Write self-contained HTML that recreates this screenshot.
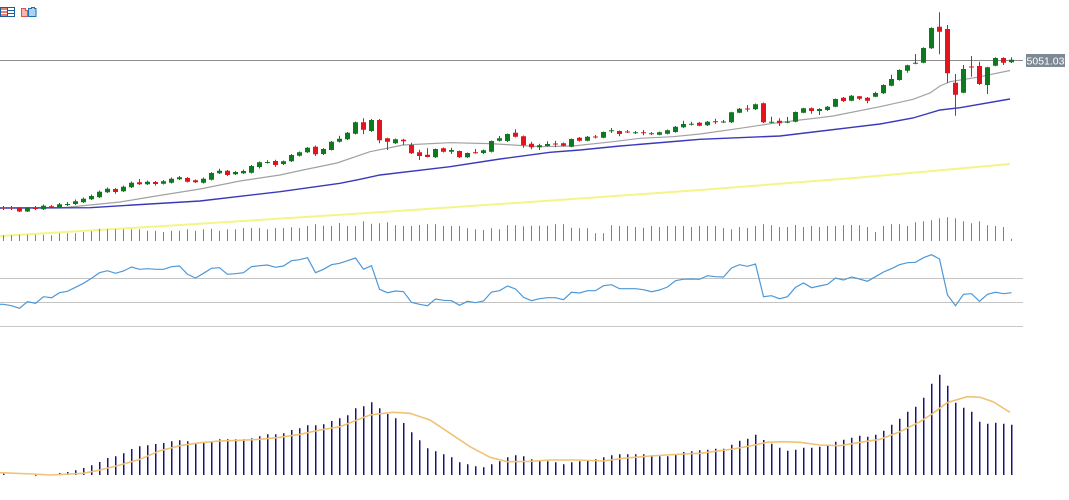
<!DOCTYPE html>
<html><head><meta charset="utf-8">
<style>
html,body{margin:0;padding:0;background:#fff;width:1069px;height:500px;overflow:hidden}
svg{display:block}
</style></head><body>
<svg id="c" width="1069" height="500" viewBox="0 0 1069 500" xmlns="http://www.w3.org/2000/svg">
<rect width="1069" height="500" fill="#fff"/>
<!-- toolbar icons -->
<g>
  <rect x="0.5" y="7.5" width="14" height="9" fill="#fff" stroke="#1f5d9a"/>
  <rect x="1" y="8" width="6" height="8" fill="#e8806e"/>
  <line x1="1" y1="10.5" x2="14" y2="10.5" stroke="#fff"/>
  <line x1="1" y1="13.5" x2="14" y2="13.5" stroke="#fff"/>
  <line x1="8" y1="10.5" x2="14" y2="10.5" stroke="#1f5d9a"/>
  <line x1="8" y1="13.5" x2="14" y2="13.5" stroke="#1f5d9a"/>
  <line x1="7.5" y1="8" x2="7.5" y2="16" stroke="#1f5d9a"/>
  <path d="M21.5 8.5h4v2h2v6h-6z" fill="#f4b8b0" stroke="#d9534f"/>
  <path d="M28.5 8.5h3v-1h3v1h1.5v8h-7.5z" fill="#aed3f0" stroke="#1f6fb4"/>
</g>
<line x1="0" y1="60.5" x2="1023" y2="60.5" stroke="#8c8c8c" stroke-width="1"/>
<line x1="0" y1="278.5" x2="1023" y2="278.5" stroke="#c4c4c4" stroke-width="1"/>
<line x1="0" y1="302.5" x2="1023" y2="302.5" stroke="#c4c4c4" stroke-width="1"/>
<line x1="0" y1="326.5" x2="1023" y2="326.5" stroke="#c8c8c8" stroke-width="1"/>
<polyline fill="none" stroke="#f4f48a" stroke-width="2" points="0,236 180,225 360,213.5 530,202 700,190 860,177.5 1010,164"/>
<g id="dyn"></g>
<rect x="1026" y="54" width="39" height="13" fill="#7d8995"/>
<text x="1045.5" y="64.3" font-family="Liberation Sans, sans-serif" font-size="10.5" fill="#ffffff" text-anchor="middle">5051.03</text>
</svg>
<script>
(function(){
var C=[
["r",207.5,208.5,206,210],["r",207.5,208.5,206,210],["r",208,211.5,207,212],["g",208,211.5,207,212],["r",207.5,209,206,210],
["g",205.7,209.3,204.5,210],["r",206.3,207.5,205,208.5],["g",204.3,207.3,203,208],["g",204,205,202,206],["g",201.3,204,199.5,205],
["g",198.7,202.3,197.5,203],["g",196,199.3,194.5,200],["g",191.7,197.3,190.5,198],["g",188.7,192.3,187.5,193],["r",189,192,188,193.7],
["g",186.7,191.3,185.5,192],["g",182.7,187.3,181.5,188],["r",182.3,184.3,179,185],["g",181.7,184.3,180.5,185],["r",182,184,181,185.5],
["g",181.3,183.7,180,184.5],["g",178.7,182.7,177.5,183.5],["g",177.3,179.3,176,180],["r",178,181.7,177,182.5],["r",180.3,182.3,179.5,183],
["g",178.7,182.7,177.5,183.5],["g",173,179.7,172,180.5],["g",170.7,173.3,168.7,174],["r",170.7,175,170,176],["g",172,174.3,171,175],
["g",171,173.3,169.5,174],["g",166,172.7,165,173.5],["g",162.3,167,161.5,168.5],["g",162,163,160.3,163.5],["r",161,165,159.7,166.7],
["g",161.3,164,160.5,165],["g",155,161.3,154,162],["g",152.3,155.7,151.5,156.5],["g",147.7,152.3,147,153],["r",146.7,154.3,145.5,156],
["g",149,154,148,155],["g",141.7,150,141,150.5],["g",138.7,141.7,135.7,142.5],["g",132.7,139.3,132,140],["g",122.3,133.7,121.5,134.5],
["r",122.3,129.7,118.3,134.3],["g",120,131,119,132],["r",120,140.3,119,143.3],["r",138.3,141.7,137.7,150],["g",139.3,143.3,138.5,144],
["r",139.7,141.3,138.7,145],["r",145,153.3,142.7,154],["r",152.3,156,149.7,160],["r",154.7,157,148.3,157.5],["g",149,157.3,148.5,158],
["r",148.3,151.7,147.5,152.5],["g",150,151.7,147.7,154],["r",151,157.3,150.5,158],["g",153,157.3,152.5,158],["r",152.3,153.3,149,153.7],
["g",150.3,153,149.5,154],["g",141,151.7,140.5,152.5],["g",138.3,140.7,136,141.5],["g",134,141,133.5,142],["r",132.7,136.7,129.3,137.5],
["r",136.3,145.3,135.5,147.7],["r",143.7,147.3,141.7,149.3],["g",145.3,147.3,143.7,150],["g",144,146,141.3,146.5],["r",143.5,144.5,140.7,147.3],
["r",143.3,145.7,142.5,146.5],["g",139,146.7,138.5,147.3],["r",137.7,140.7,137,141.5],["g",136.7,140.7,136,141.3],["r",136.5,137.5,135,138.5],
["g",132,137.7,131.5,138.3],["g",130.2,131.2,128,133],["r",131,134,130.5,136.3],["r",131.5,132.5,130,133],["g",132.2,133.2,131,134],
["r",132.2,133.2,130,135.3],["r",133.2,134.2,132,135],["g",132.3,134.7,131.5,135.3],["g",130.3,133.7,129.5,134.3],["g",126.7,132,126,132.7],
["g",124,127.3,120.7,128],["g",123.8,124.8,121.7,125.5],["r",122.7,125.7,122,126.3],["g",121.7,125.3,121,126],["r",121.2,122.2,118.7,124],
["g",121.5,122.5,120,123],["g",112.3,122.3,111.7,123],["g",108.7,112.7,108,113.3],["r",108.5,109.5,105,111.7],["g",104.3,109.3,103.5,110],
["r",103.3,122.3,102.5,123],["g",121.8,122.8,116.7,123.3],["r",120.7,123.3,118.3,126],["g",121.8,122.8,117,123.3],["g",112,121.7,111.5,122.3],
["g",108.3,112.7,107.7,113.3],["r",108.3,111,107.5,113.7],["g",109,111,108.3,115],["g",106.7,110,106,111],["g",99,106.7,98.5,107.3],
["r",97.7,101,97,102],["g",95.7,100.7,95,101.3],["r",96.3,98.7,96,100],["r",97.7,100.7,97,103.3],["g",93,96.7,91.7,97.3],
["g",85,93.3,84.3,94],["g",79,85.7,74.7,86.3],["g",70,80,69.3,80.7],["g",65.3,70.7,64.7,72.7],["g",62.8,63.8,54,64.3],
["g",48,62.7,47.3,63.3],["g",28,48.3,27.3,49],["r",26.7,31.7,12.3,54.3],["r",29,73.3,25,82.7],["r",82.7,94.7,74,115.7],
["g",69,92.7,65,93.3],["r",66.5,67.5,56,76.7],["r",66,84,61.7,85],["g",67.3,85,66.7,94],["g",58,65.7,57.3,66.3],
["r",58,62.7,57.3,65],["g",59.7,62.3,57.3,63]
];
var V=[5.7,5.7,6.3,6.3,6.3,6.3,5.7,7.7,7.7,7.7,9,9.7,
12.3,11.7,11.7,11.7,11.7,11.7,10.3,10.3,9,10.3,10.3,11.7,10.3,11.7,12.3,10.3,11.7,11.7,13,13,13,11.7,13,13,13.7,13,15,16.7,15.3,15,18,15,
15,19.7,17.3,17.7,18.7,15.7,15,15,16,16.7,16.7,15,15,15,12.7,11.7,11,12.7,11.7,15.7,15.7,14.7,15.3,15.3,15.3,16.7,16.7,13.3,12.7,12.7,7.7,7.7,15.7,15,15,14,13.3,15,14,15,15,
15,14,15,15,15,13,11.7,14,13,15,16.7,15.7,14,14,16,14,15,14,15,15,15.7,16,15.7,14,9,15,16.7,16.7,15,18.7,19.7,20.7,22.7,23.7,22.7,19.7,17.7,19.7,15.7,15,14,2.3];
var R=[304.3,305.7,308.3,301.7,303.3,296.7,297.7,292.7,291.3,287.3,283.3,278.3,272.7,270.7,273.3,271,267,269.3,268.7,269.3,269.3,266.7,266,274.3,278,273.3,268.3,267.7,274.3,273.7,272.7,266.7,265.7,265,267.3,266,260.7,259.7,257.7,272.7,269.3,264.7,263.3,260.7,258,269.3,265.7,289.3,292.7,291,291.7,302.3,304.3,305.7,299,300.3,300.7,305.3,301.3,302.7,301,292,290.7,286,289,297.3,300.7,298.7,297.7,297.7,299.7,292.3,293,290.7,290.7,285.7,284.7,288.7,288.7,288.7,289.7,291.7,290,287,280.7,279.2,279,279.3,275.7,276.7,277,268,264.7,266.3,264,296.7,295.7,298.7,296.7,287.3,283,287.7,286,284.3,278,280,277,279,281.3,276.7,272,268.7,264.7,262.7,262.3,257.7,254.7,259,295,305.7,294.3,293.7,301.3,294.3,292.3,293.7,292.7];
var M=[1.3,0,0,0,-0.7,0,0.5,2,3,4.7,7,9.7,13,17,18.7,21.7,26,28.7,29.7,31,32,33.7,34.7,33.7,32,32,33.7,35.7,35.7,35.7,35.7,36.7,38.7,40.7,40.7,41.7,45,46.7,49.7,49.7,50.7,54,56.7,59.7,66.7,68.7,72.7,66.7,61,56.7,52,42.7,34.7,26.7,23.7,20.7,17.7,12.7,10.7,8.7,7.7,10.7,13.7,17.7,19.7,18.7,15.7,14.7,13.7,12.7,10.7,12.7,13.7,14.7,15.7,17.7,19.7,20.7,20.7,20.7,20.7,19.7,18.7,18.7,20.7,23,23.7,24.7,25.3,26.3,26.3,30.3,34.3,36.3,40.3,35,31.3,27.3,24.3,25.3,27.3,27.3,28.3,29.3,33.3,35.3,37.3,39.3,38.3,40.3,44.3,50.3,56.3,63.3,68.3,77.3,91.3,100.3,89.3,72.3,67.3,63.3,53.3,51.3,52.3,51.3,50.3];
var gray="0,208 60,208 90,205 120,202 150,197 200,189 240,181 280,175 303,170 337,163 370,151.7 403,145 450,142.7 490,143.6 513,145 540,146.7 573,146 613,141.7 640,138.3 673,136.7 700,134 740,128.3 773,123.3 800,120 820,117.7 833,116 880,106.7 913,99.3 930,93 940,86 950,81.7 977,77.3 1010,70.5";
var blue="0,208 90,207.7 133,205 200,201 280,191.7 340,183.3 360,179.3 380,175 450,166.7 500,159 550,152.3 580,150 620,146 680,141 700,139.3 780,136 830,130 880,124 913,118 940,110 960,107.7 1010,99";
var sig="0,472.7 33,474 50,475 83,473.3 100,470 120,465 140,459.3 160,450.7 180,445.7 200,442.7 220,441 240,440.3 260,439.3 280,437.3 300,434.3 320,430 340,426.7 350,422.7 370,415 393,412.3 410,413.3 430,420 450,433.3 470,446.7 490,457.3 507,461.7 530,461.3 550,460 577,460 603,461 623,458.3 650,456 683,454 700,453.3 733,449 750,446 767,442.3 783,441.7 800,442.3 820,445 840,445.7 860,442.3 880,439.3 900,431.7 920,421.7 933,413.3 947,402.7 967,396.7 980,397.3 993,401.7 1010,412.3";
var vol='',mac='',gw='',gb='',rw='',rb='',rsi='0,304.3';
for(var k=0;k<C.length;k++){
  var x=3.5+8*k,c=C[k];
  var w='M'+x+' '+c[3]+'V'+c[4];
  var b='M'+(x-2.5)+' '+c[1]+'h5V'+c[2]+'h-5Z';
  if(c[0]=='g'){gw+=w;gb+=b;}else{rw+=w;rb+=b;}
  if(V[k]!==undefined) vol+='M'+x+' '+(241-V[k]).toFixed(1)+'V241';
  if(M[k]) mac+='M'+(x+0.25)+' '+(475-M[k]).toFixed(1)+'V475';
  rsi+=' '+x+','+R[k];
}
var s='';
s+='<path d="'+vol+'" stroke="#38b238" stroke-width="1" fill="none"/>';
s+='<polyline points="'+gray+'" fill="none" stroke="#a2a2a2" stroke-width="1.2"/>';
s+='<polyline points="'+blue+'" fill="none" stroke="#3a3abc" stroke-width="1.4"/>';
s+='<path d="'+gw+'" stroke="#0d7a1f" stroke-width="1" fill="none"/>';
s+='<path d="'+rw+'" stroke="#e3141d" stroke-width="1" fill="none"/>';
s+='<path d="'+gb+'" fill="#0d7a1f"/>';
s+='<path d="'+rb+'" fill="#e3141d"/>';
s+='<polyline points="'+rsi+'" fill="none" stroke="#4d98d8" stroke-width="1.2"/>';
s+='<path d="'+mac+'" stroke="#1a1470" stroke-width="1.5" fill="none"/>';
s+='<polyline points="'+sig+'" fill="none" stroke="#f0c274" stroke-width="1.6"/>';
document.getElementById('dyn').innerHTML=s;
})();
</script>
</body></html>
